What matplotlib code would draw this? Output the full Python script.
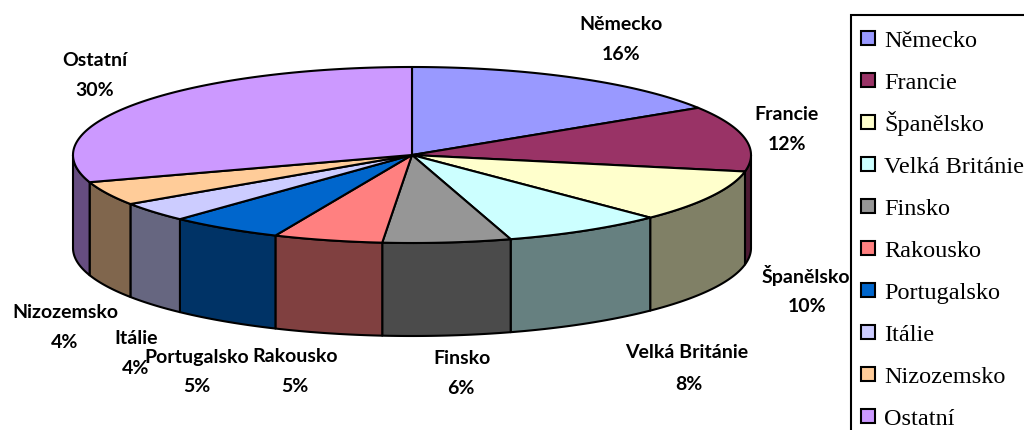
import numpy as np
import matplotlib
matplotlib.use("Agg")
import matplotlib.pyplot as plt
from matplotlib.patches import Polygon, Rectangle

names = ["Německo", "Francie", "Španělsko", "Velká Británie", "Finsko",
         "Rakousko", "Portugalsko", "Itálie", "Nizozemsko", "Ostatní"]
values = [16, 12, 9.6, 7.7, 6.1, 5.2, 5.4, 3.6, 4.4, 30]
colors = ["#9999FF", "#993366", "#FFFFCC", "#CCFFFF", "#969696",
          "#FF8080", "#0066CC", "#CCCCFF", "#FFCC99", "#CC99FF"]

# label placement, name line and percent line (pixels)
name_pos = [(621, 25), (786, 115), (806, 276), (687, 352), (462, 358),
            (295, 357), (197, 357), (136, 338), (65, 312), (95, 61)]
pct_pos = [(621, 55), (787, 144), (807, 306), (689, 384), (461, 388),
           (295, 387), (197, 387), (136, 368), (65, 342), (95, 90)]

cx, cy = 412, 155
rx, ry = 339, 88
depth = 93


def rim(a0, a1):
    t = np.radians(np.linspace(a0, a1, max(int(abs(a1 - a0) * 2), 2)))
    return np.column_stack([cx + rx * np.sin(t), cy - ry * np.cos(t)])


def darker(c):
    return tuple(v * 0.5 for v in matplotlib.colors.to_rgb(c))


fig = plt.figure(figsize=(10.24, 4.3), dpi=100)
ax = fig.add_axes([0, 0, 1, 1])
ax.set_xlim(0, 1024)
ax.set_ylim(430, 0)
ax.axis("off")

edges = np.cumsum([0] + values) / sum(values) * 360

# side walls, only the front half of the pie is visible
for i, c in enumerate(colors):
    a0 = max(edges[i], 90)
    a1 = min(edges[i + 1], 270)
    if a1 <= a0:
        continue
    top = rim(a0, a1)
    bottom = top[::-1] + [0, depth]
    ax.add_patch(Polygon(np.vstack([top, bottom]), closed=True, facecolor=darker(c),
                         edgecolor="black", linewidth=1.5, joinstyle="round", zorder=2))

# top face
for i, c in enumerate(colors):
    pts = np.vstack([[cx, cy], rim(edges[i], edges[i + 1])])
    ax.add_patch(Polygon(pts, closed=True, facecolor=c, edgecolor="black",
                         linewidth=1.5, joinstyle="round", zorder=3))

# data labels
for name, val, p, q in zip(names, values, name_pos, pct_pos):
    ax.text(p[0], p[1], name, family="Lato", fontweight="bold", fontsize=14,
            ha="center", va="center", color="black", zorder=5)
    ax.text(q[0], q[1], f"{round(val)}%", family="Lato", fontweight="bold", fontsize=14,
            ha="center", va="center", color="black", zorder=5)

# legend box runs off the right and bottom edges
ax.add_patch(Rectangle((851, 15), 200, 440, facecolor="white", edgecolor="black",
                       linewidth=1.5, zorder=4))
for i, (name, c) in enumerate(zip(names, colors)):
    y = 38 + i * 42
    ax.add_patch(Rectangle((861, y - 7), 14, 14, facecolor=c, edgecolor="black",
                           linewidth=1.5, zorder=5))
    ax.text(884, y + 9, name, family="Liberation Serif", fontsize=17.5, ha="left",
            va="baseline", color="black", zorder=6)

fig.savefig("out.png", dpi=100, facecolor="white")
